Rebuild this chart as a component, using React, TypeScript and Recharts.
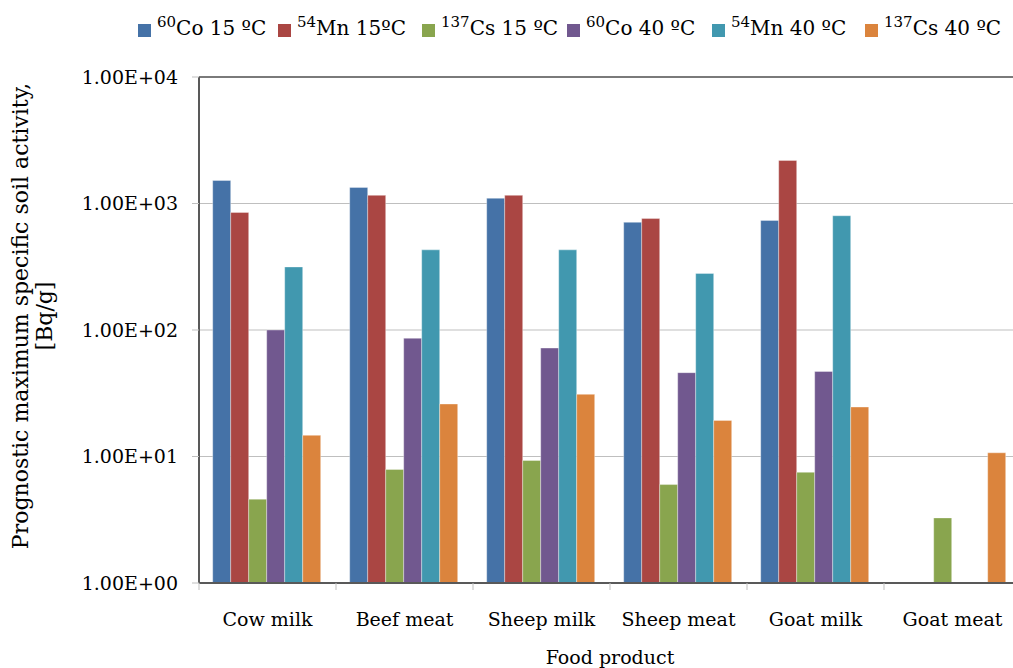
import { BarChart, Bar, XAxis, YAxis, CartesianGrid, ReferenceLine } from 'recharts'

const categories = ['Cow milk', 'Beef meat', 'Sheep milk', 'Sheep meat', 'Goat milk', 'Goat meat']
const co60At15 = [1520, 1340, 1100, 710, 735, null]
const mn54At15 = [850, 1160, 1160, 760, 2190, null]
const cs137At15 = [4.6, 7.9, 9.3, 6.0, 7.5, 3.27]
const co60At40 = [100, 86, 72, 46, 47, null]
const mn54At40 = [315, 430, 430, 280, 800, null]
const cs137At40 = [14.7, 26, 31, 19.3, 24.6, 10.7]
const yTicks = [1, 10, 100, 1000, 10000]
const yTickLabels = ['1.00E+00', '1.00E+01', '1.00E+02', '1.00E+03', '1.00E+04']

const series = [
  { key: 'co60At15', iso: '60', el: 'Co', rest: ' 15 ºC', color: '#4572A7', values: co60At15 },
  { key: 'mn54At15', iso: '54', el: 'Mn', rest: ' 15ºC', color: '#AA4643', values: mn54At15 },
  { key: 'cs137At15', iso: '137', el: 'Cs', rest: ' 15 ºC', color: '#89A54E', values: cs137At15 },
  { key: 'co60At40', iso: '60', el: 'Co', rest: ' 40 ºC', color: '#71588F', values: co60At40 },
  { key: 'mn54At40', iso: '54', el: 'Mn', rest: ' 40 ºC', color: '#4198AF', values: mn54At40 },
  { key: 'cs137At40', iso: '137', el: 'Cs', rest: ' 40 ºC', color: '#DB843D', values: cs137At40 },
]

const data = categories.map((name, i) => {
  const row: Record<string, any> = { name }
  series.forEach(s => { row[s.key] = s.values[i] })
  return row
})

const FONT = '"DejaVu Serif", serif'
const W = 1035
const H = 668
const X_H = 85
const M = { top: 77, right: 14, bottom: 0, left: 0 }
const Y_W = 199
const band = (W - M.left - M.right - Y_W) / categories.length
const legendSlots = [140, 144, 145, 145, 153, 150]

function CategoryTick(props: any) {
  const { x, y, payload } = props
  const bx = x - band / 2
  return (
    <g>
      <line x1={bx} y1={y - 7} x2={bx} y2={y} stroke="#bfbfbf" strokeWidth={1} />
      <text x={x} y={y + 36} textAnchor="middle" fill="#000" fontFamily={FONT} fontSize={19}>
        {payload.value}
      </text>
    </g>
  )
}

export default function App() {
  return (
    <div style={{ position: 'fixed', left: 0, top: 0, width: 1013, height: 668, overflow: 'hidden', background: '#fff' }}>
      <div style={{ position: 'absolute', left: 138, top: 12, display: 'flex', fontFamily: FONT, fontSize: 20, color: '#000', whiteSpace: 'nowrap' }}>
        {series.map((s, i) => (
          <div key={s.key} style={{ display: 'flex', alignItems: 'flex-end', height: 28, width: legendSlots[i] }}>
            <span style={{ width: 13, height: 13, background: s.color, marginRight: 6, marginBottom: 3, flex: 'none' }} />
            <span>
              <span style={{ fontSize: 15, position: 'relative', top: -8 }}>{s.iso}</span>
              {s.el}{s.rest}
            </span>
          </div>
        ))}
      </div>
      <BarChart width={W} height={H} data={data} margin={M} barCategoryGap="10%" barGap={0}>
        <CartesianGrid vertical={false} stroke="#bfbfbf" />
        <ReferenceLine y={10000} stroke="#595959" strokeWidth={1.5} />
        <XAxis
          dataKey="name"
          height={X_H}
          axisLine={{ stroke: '#595959', strokeWidth: 2 }}
          tickLine={false}
          tickSize={7}
          tickMargin={0}
          interval={0}
          tick={<CategoryTick />}
          label={{
            content: ({ viewBox }: any) => (
              <text x={viewBox.x + viewBox.width / 2} y={viewBox.y + 81} textAnchor="middle" fill="#000" fontFamily={FONT} fontSize={19}>
                Food product
              </text>
            ),
          }}
        />
        <YAxis
          scale="log"
          domain={[1, 10000]}
          ticks={yTicks}
          allowDataOverflow
          width={Y_W}
          axisLine={{ stroke: '#595959', strokeWidth: 2 }}
          tickLine={{ stroke: '#bfbfbf' }}
          tickSize={7}
          tickMargin={14}
          tick={{ fill: '#000', fontFamily: FONT, fontSize: 19 }}
          tickFormatter={(v: number) => yTickLabels[yTicks.indexOf(v)]}
          label={{
            content: () => (
              <g fontFamily={FONT} fontSize={22} fill="#000" textAnchor="middle">
                <text transform="translate(28,316) rotate(-90)">Prognostic maximum specific soil activity,</text>
                <text transform="translate(52,316) rotate(-90)">[Bq/g]</text>
              </g>
            ),
          }}
        />
        {series.map(s => (
          <Bar
            key={s.key}
            dataKey={s.key}
            fill={s.color}
            stroke="rgba(255,255,255,0.35)"
            strokeWidth={1}
            isAnimationActive={false}
          />
        ))}
      </BarChart>
    </div>
  )
}
